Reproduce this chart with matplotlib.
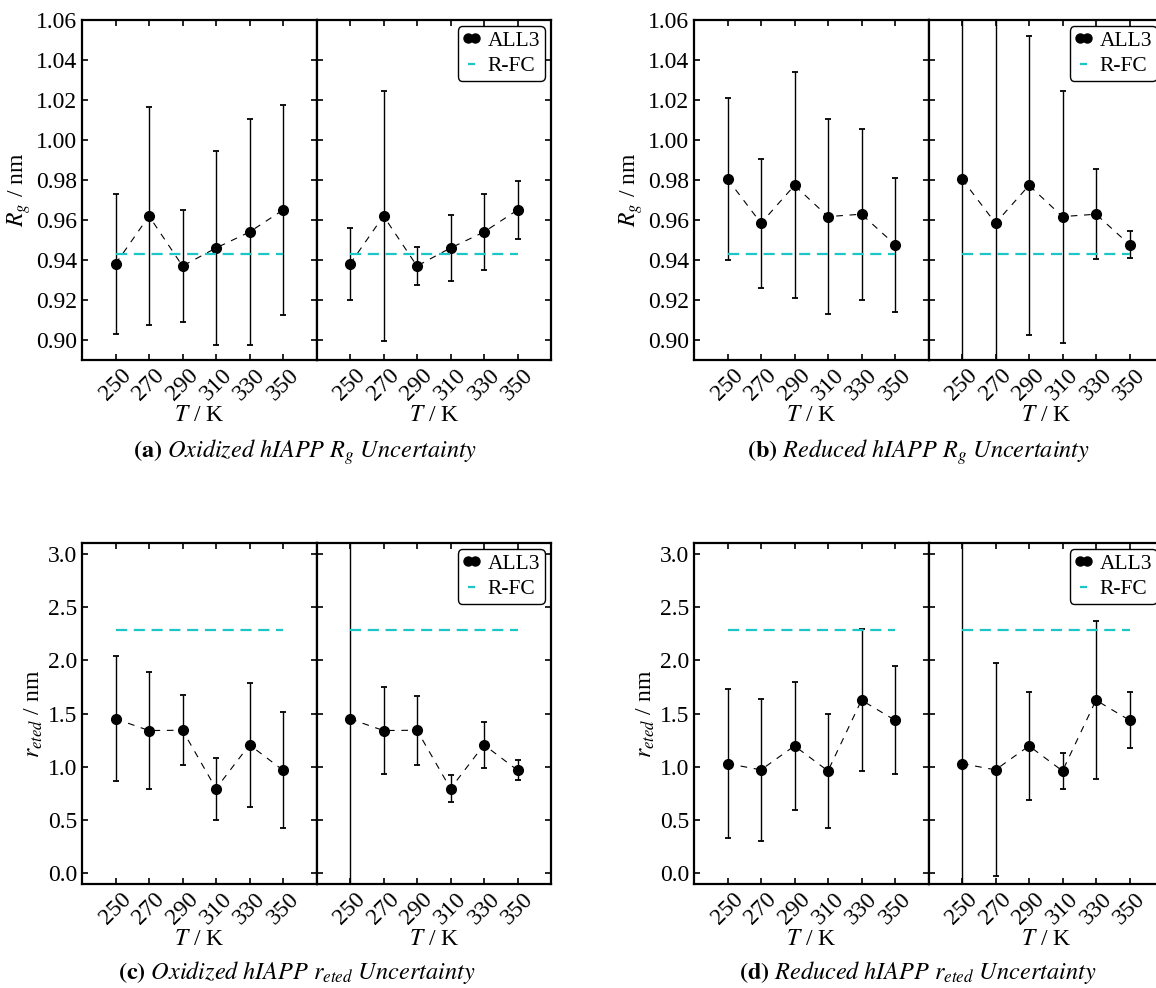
import matplotlib.pyplot as plt
from matplotlib.lines import Line2D

plt.rcParams['font.family'] = 'Liberation Serif'
plt.rcParams['mathtext.fontset'] = 'stix'

# data
temps = [250, 270, 290, 310, 330, 350]

ox_rg_mean = [0.938, 0.962, 0.937, 0.946, 0.954, 0.965]
ox_rg_err_a = [0.035, 0.0545, 0.028, 0.0485, 0.0567, 0.0527]
ox_rg_err_b = [0.018, 0.0625, 0.0093, 0.0166, 0.019, 0.0145]

red_rg_mean = [0.9805, 0.9584, 0.9773, 0.9617, 0.9629, 0.9477]
red_rg_err_a = [0.0405, 0.0323, 0.0565, 0.0486, 0.0427, 0.0335]
red_rg_err_b = [0.30, 0.25, 0.0746, 0.063, 0.0225, 0.0069]

ox_re_mean = [1.450, 1.340, 1.343, 0.795, 1.206, 0.968]
ox_re_err_a = [0.587, 0.553, 0.330, 0.290, 0.580, 0.545]
ox_re_err_b = [3.5, 0.407, 0.323, 0.128, 0.215, 0.094]

red_re_mean = [1.030, 0.971, 1.196, 0.961, 1.625, 1.437]
red_re_err_a = [0.698, 0.669, 0.598, 0.539, 0.669, 0.507]
red_re_err_b = [3.5, 1.0, 0.506, 0.172, 0.742, 0.263]

rfc_rg = 0.9432
rfc_re = 2.283

W, H = 1156, 988
fig = plt.figure(figsize=(W / 100, H / 100), dpi=100)


def box(x0, y0, x1, y1):
    return [x0 / W, 1 - y1 / H, (x1 - x0) / W, (y1 - y0) / H]


def style(ax, ylim, yticks, yfmt):
    ax.set_xlim(230, 370)
    ax.set_ylim(*ylim)
    ax.set_xticks(temps)
    ax.set_xticklabels([str(t) for t in temps], rotation=45)
    ax.set_yticks(yticks)
    ax.set_yticklabels([yfmt % v for v in yticks])
    ax.tick_params(direction='in', top=True, right=True, length=4,
                   width=1.2, labelsize=17)
    for s in ax.spines.values():
        s.set_linewidth(1.6)
    ax.set_xlabel('$T$ / K', fontsize=17, labelpad=0)


def panel(x0, y0, y1, mean, err_a, err_b, rfc, ylim, yticks, yfmt, ylabel):
    ax1 = fig.add_axes(box(x0, y0, x0 + 234.5, y1))
    ax2 = fig.add_axes(box(x0 + 234.5, y0, x0 + 469, y1))
    for ax, err in ((ax1, err_a), (ax2, err_b)):
        ax.errorbar(temps, mean, yerr=err, fmt='none', ecolor='k',
                    elinewidth=1.0, capsize=2.5, capthick=1.3)
        ax.plot(temps, mean, color='k', lw=0.8, ls=(0, (6, 6)),
                marker='o', ms=7, mfc='k', mec='k')
        ax.plot([temps[0], temps[-1]], [rfc, rfc], color='#1cc6c6',
                lw=1.6, ls=(0, (5, 3)))
        style(ax, ylim, yticks, yfmt)
    ax2.tick_params(labelleft=False)
    ax1.set_ylabel(ylabel, fontsize=17, labelpad=2)
    handles = [Line2D([], [], ls='None', marker='o', color='k', ms=6.5),
               Line2D([], [], ls=(0, (5, 3)), color='#1cc6c6', lw=1.6)]
    leg = ax2.legend(handles, ['ALL3', 'R-FC'], loc='upper right',
                     numpoints=2, handlelength=0.9, handletextpad=0.3,
                     borderaxespad=0.3, borderpad=0.2, labelspacing=0.25,
                     fontsize=15.5, fancybox=True, framealpha=1)
    leg.get_frame().set_edgecolor('k')
    leg.get_frame().set_linewidth(1.0)


rg_ticks = [0.90, 0.92, 0.94, 0.96, 0.98, 1.00, 1.02, 1.04, 1.06]
re_ticks = [0.0, 0.5, 1.0, 1.5, 2.0, 2.5, 3.0]

panel(82, 20, 360, ox_rg_mean, ox_rg_err_a, ox_rg_err_b, rfc_rg,
      (0.89, 1.06), rg_ticks, '%.2f', '$R_g$ / nm')
panel(694, 20, 360, red_rg_mean, red_rg_err_a, red_rg_err_b, rfc_rg,
      (0.89, 1.06), rg_ticks, '%.2f', '$R_g$ / nm')
panel(82, 543, 884, ox_re_mean, ox_re_err_a, ox_re_err_b, rfc_re,
      (-0.1, 3.1), re_ticks, '%.1f', '$r_{eted}$ / nm')
panel(694, 543, 884, red_re_mean, red_re_err_a, red_re_err_b, rfc_re,
      (-0.1, 3.1), re_ticks, '%.1f', '$r_{eted}$ / nm')

captions = [
    (305, 452, r'$\mathbf{(a)}\ \mathit{Oxidized\ hIAPP}\ R_g\ \mathit{Uncertainty}$'),
    (918, 452, r'$\mathbf{(b)}\ \mathit{Reduced\ hIAPP}\ R_g\ \mathit{Uncertainty}$'),
    (297, 972, r'$\mathbf{(c)}\ \mathit{Oxidized\ hIAPP}\ r_{eted}\ \mathit{Uncertainty}$'),
    (918, 972, r'$\mathbf{(d)}\ \mathit{Reduced\ hIAPP}\ r_{eted}\ \mathit{Uncertainty}$'),
]
for cx, cy, txt in captions:
    fig.text(cx / W, 1 - cy / H, txt, ha='center', va='center', fontsize=17.5)

fig.savefig('out.png', dpi=100)
